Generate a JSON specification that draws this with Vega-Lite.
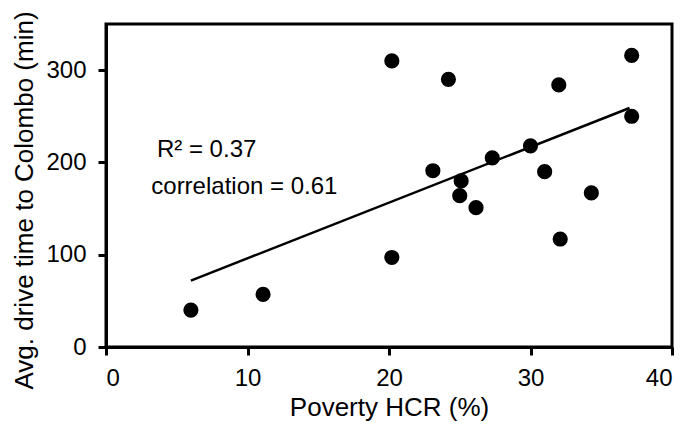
{
  "$schema": "https://vega.github.io/schema/vega-lite/v6.json",
  "autosize": "none",
  "width": 566,
  "height": 323,
  "padding": {"left": 106, "top": 24, "right": 19, "bottom": 89},
  "background": "white",
  "config": {
    "font": "Liberation Sans",
    "view": {"stroke": "black", "strokeWidth": 3},
    "axis": {
      "grid": false,
      "domainColor": "black",
      "domainWidth": 3,
      "tickColor": "black",
      "tickWidth": 3,
      "tickSize": 8,
      "labelColor": "black",
      "labelFontSize": 24,
      "labelFont": "Liberation Sans",
      "titleColor": "black",
      "titleFontSize": 26,
      "titleFont": "Liberation Sans",
      "titleFontWeight": "normal"
    }
  },
  "datasets": {
    "points": [
      {"hcr": 6.0, "time": 40},
      {"hcr": 11.1, "time": 57},
      {"hcr": 20.2, "time": 310},
      {"hcr": 20.2, "time": 97},
      {"hcr": 24.2, "time": 290},
      {"hcr": 23.1, "time": 191},
      {"hcr": 25.1, "time": 180},
      {"hcr": 25.0, "time": 164},
      {"hcr": 26.15, "time": 151},
      {"hcr": 27.3, "time": 205},
      {"hcr": 30.0, "time": 218},
      {"hcr": 31.0, "time": 190},
      {"hcr": 32.0, "time": 284},
      {"hcr": 32.1, "time": 117},
      {"hcr": 34.3, "time": 167},
      {"hcr": 37.15, "time": 316},
      {"hcr": 37.15, "time": 250}
    ],
    "fit": [
      {"hcr": 6.0, "time": 72},
      {"hcr": 37.0, "time": 259}
    ],
    "notes": [
      {"hcr": 3.6, "time": 206, "text": "R² = 0.37"},
      {"hcr": 3.2, "time": 166, "text": "correlation = 0.61"}
    ]
  },
  "layer": [
    {
      "data": {"name": "fit"},
      "mark": {"type": "line", "color": "black", "strokeWidth": 2.5},
      "encoding": {
        "x": {"field": "hcr", "type": "quantitative", "scale": {"domain": [0, 40], "nice": false}, "axis": {"values": [0, 10, 20, 30, 40], "title": "Poverty HCR (%)", "labelPadding": 11, "titlePadding": 4}},
        "y": {"field": "time", "type": "quantitative", "scale": {"domain": [0, 350], "nice": false}, "axis": {"values": [0, 100, 200, 300], "title": "Avg. drive time to Colombo (min)", "labelPadding": 12, "titlePadding": 8, "titleY": 176}}
      }
    },
    {
      "data": {"name": "points"},
      "mark": {"type": "circle", "color": "black", "opacity": 1, "size": 230},
      "encoding": {
        "x": {"field": "hcr", "type": "quantitative"},
        "y": {"field": "time", "type": "quantitative"}
      }
    },
    {
      "data": {"name": "notes"},
      "mark": {"type": "text", "align": "left", "baseline": "alphabetic", "fontSize": 24, "color": "black", "font": "Liberation Sans"},
      "encoding": {
        "x": {"field": "hcr", "type": "quantitative"},
        "y": {"field": "time", "type": "quantitative"},
        "text": {"field": "text"}
      }
    }
  ]
}
